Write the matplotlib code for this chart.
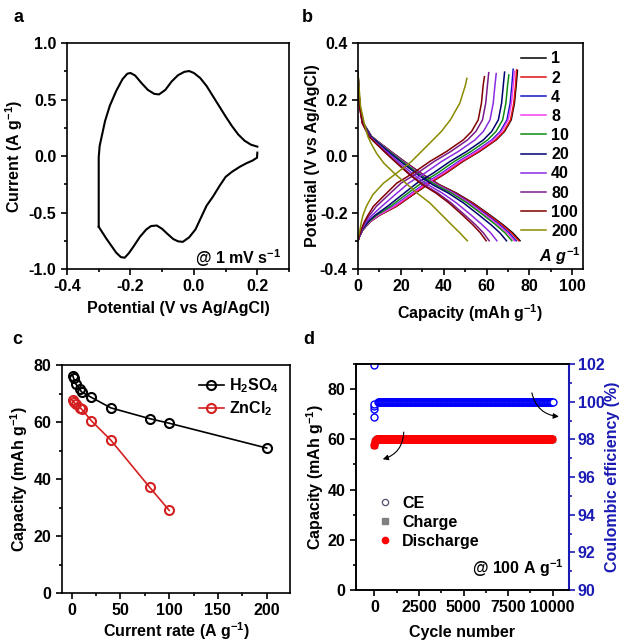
import numpy as np
import matplotlib
matplotlib.use('Agg')
import matplotlib.pyplot as plt
from matplotlib.ticker import MultipleLocator
from matplotlib.lines import Line2D

plt.rcParams['font.family'] = ['Liberation Sans', 'DejaVu Sans']
plt.rcParams['font.weight'] = 'bold'
plt.rcParams['axes.labelweight'] = 'bold'
plt.rcParams['mathtext.fontset'] = 'custom'
plt.rcParams['mathtext.rm'] = 'Liberation Sans:bold'
plt.rcParams['mathtext.bf'] = 'Liberation Sans:bold'
plt.rcParams['mathtext.it'] = 'Liberation Sans:bold:italic'
plt.rcParams['mathtext.default'] = 'rm'
plt.rcParams['axes.unicode_minus'] = False
plt.rcParams['axes.linewidth'] = 1.2

TICK_FS = 11.5
LABEL_FS = 11.5

# ---------------- panel a: CV at 1 mV/s ----------------
cv_up_v = [-0.300, -0.300, -0.300, -0.297, -0.290, -0.280, -0.265, -0.245, -0.225, -0.210,
           -0.200, -0.185, -0.165, -0.145, -0.125, -0.110, -0.090, -0.070, -0.050, -0.030,
           -0.015, 0.000, 0.020, 0.040, 0.060, 0.080, 0.100, 0.120, 0.140, 0.160, 0.180, 0.200]
cv_up_i = [-0.626, -0.300, -0.010, 0.090, 0.180, 0.310, 0.445, 0.575, 0.680, 0.728,
           0.735, 0.712, 0.645, 0.585, 0.550, 0.545, 0.585, 0.660, 0.715, 0.745,
           0.752, 0.735, 0.690, 0.620, 0.530, 0.440, 0.350, 0.265, 0.190, 0.135, 0.100, 0.083]
cv_dn_v = [0.200, 0.199, 0.185, 0.165, 0.145, 0.120, 0.100, 0.082, 0.060, 0.040, 0.020,
           0.005, -0.015, -0.035, -0.050, -0.065, -0.085, -0.100, -0.117, -0.135, -0.150,
           -0.170, -0.190, -0.205, -0.218, -0.230, -0.245, -0.260, -0.275, -0.290, -0.300]
cv_dn_i = [0.030, -0.015, -0.040, -0.065, -0.095, -0.140, -0.185, -0.260, -0.360, -0.440, -0.560,
           -0.650, -0.720, -0.760, -0.755, -0.735, -0.685, -0.645, -0.615, -0.620, -0.650,
           -0.715, -0.800, -0.860, -0.900, -0.895, -0.855, -0.795, -0.735, -0.670, -0.626]

# ---------------- panel b: GCD curves ----------------
rates = ['1', '2', '4', '8', '10', '20', '40', '80', '100', '200']
rate_colors = ['#000000', '#e01010', '#1515c8', '#f040f0', '#108a10',
               '#000070', '#8a2be2', '#7a1a8a', '#800000', '#8a8a00']

chg_v = [-0.300, -0.285, -0.262, -0.232, -0.210, -0.178, -0.137, -0.096, -0.060, -0.019,
         0.016, 0.057, 0.087, 0.128, 0.187, 0.250]
chg_cap = [
    [0, 0.7, 2.2, 5.8, 10.0, 18.0, 25.7, 33.5, 41.2, 49.0, 56.7, 64.5, 68.4, 71.5, 73.0, 73.8],
    [0, 0.7, 2.2, 5.7, 9.9, 17.8, 25.4, 33.2, 40.9, 48.7, 56.4, 64.2, 68.1, 71.2, 72.7, 73.5],
    [0, 0.7, 2.1, 5.4, 9.3, 16.6, 24.0, 31.5, 39.2, 47.0, 54.7, 62.5, 66.4, 69.5, 71.0, 71.8],
    [0, 0.7, 2.1, 5.5, 9.5, 17.0, 24.5, 32.1, 39.8, 47.6, 55.3, 63.1, 67.0, 70.1, 71.6, 72.4],
    [0, 0.6, 2.0, 5.1, 8.6, 15.2, 22.3, 29.5, 37.2, 45.0, 52.7, 60.5, 64.4, 67.5, 69.0, 69.8],
    [0, 0.6, 1.9, 4.7, 7.9, 13.8, 20.6, 27.5, 35.2, 43.0, 50.7, 58.5, 62.4, 65.5, 67.0, 67.8],
    [0, 0.6, 1.7, 4.0, 6.5, 11.1, 17.3, 23.6, 31.3, 39.1, 46.8, 54.6, 58.5, 61.6, 63.1, 63.9],
    [0, 0.5, 1.5, 3.4, 5.3, 8.6, 14.3, 20.1, 27.8, 35.6, 43.3, 51.1, 55.0, 58.1, 59.6, 60.4],
    [0, 0.5, 1.4, 3.0, 4.6, 7.2, 12.6, 18.1, 25.8, 33.6, 41.3, 49.1, 53.0, 56.1, 57.6, 58.4],
    [0, 0.2, 0.9, 1.6, 2.3, 3.9, 6.9, 11.9, 18.1, 25.0, 29.6, 35.0, 38.9, 43.1, 47.5, 50.1],
]
chg_end_cap = [74.4, 74.0, 72.4, 73.0, 70.4, 68.4, 64.5, 61.0, 59.0, 50.8]
chg_end_v = [0.303, 0.305, 0.307, 0.300, 0.287, 0.297, 0.292, 0.295, 0.281, 0.275]

dis_v = [0.295, 0.240, 0.175, 0.116, 0.069, 0.046, 0.010, -0.025, -0.066, -0.102,
         -0.131, -0.166, -0.208, -0.243, -0.272, -0.300]
dis_cap = [
    [0, 0.3, 0.9, 2.5, 6.4, 10.2, 16.4, 22.7, 30.4, 38.1, 45.9, 53.6, 61.4, 67.6, 72.2, 75.6],
    [0, 0.3, 0.9, 2.5, 6.3, 10.1, 16.3, 22.5, 30.2, 37.8, 45.5, 53.2, 60.9, 67.1, 71.6, 75.0],
    [0, 0.3, 0.9, 2.4, 6.2, 10.0, 16.0, 22.2, 29.7, 37.2, 44.8, 52.3, 59.9, 66.0, 70.5, 73.8],
    [0, 0.3, 0.9, 2.4, 6.2, 9.9, 15.8, 21.9, 29.4, 36.8, 44.3, 51.8, 59.3, 65.3, 69.7, 73.0],
    [0, 0.3, 0.9, 2.4, 6.1, 9.7, 15.6, 21.6, 28.9, 36.2, 43.6, 50.9, 58.3, 64.2, 68.6, 71.8],
    [0, 0.3, 0.8, 2.3, 5.9, 9.4, 15.0, 20.8, 27.9, 34.9, 42.1, 49.2, 56.3, 62.0, 66.2, 69.3],
    [0, 0.3, 0.8, 2.1, 5.5, 8.7, 14.1, 19.5, 26.1, 32.7, 39.3, 45.9, 52.6, 57.9, 61.9, 64.8],
    [0, 0.2, 0.7, 2.0, 5.2, 8.3, 13.3, 18.4, 24.6, 30.9, 37.2, 43.4, 49.7, 54.8, 58.5, 61.2],
    [0, 0.2, 0.7, 2.0, 5.1, 8.1, 13.0, 18.0, 24.0, 30.1, 36.3, 42.4, 48.6, 53.5, 57.1, 59.8],
    [0, 0.5, 1.2, 2.9, 4.6, 6.0, 8.6, 12.0, 17.6, 23.2, 27.5, 33.5, 39.0, 43.6, 47.5, 51.0],
]

# ---------------- panel c: rate capability ----------------
rate_x = [1, 2, 4, 8, 10, 20, 40, 80, 100, 200]
cap_h2so4 = [76.3, 75.3, 73.4, 71.7, 70.6, 68.7, 65.0, 61.2, 59.6, 50.9]
rate_x_zn = [1, 2, 4, 8, 10, 20, 40, 80, 100]
cap_zncl2 = [67.6, 67.0, 66.4, 65.1, 64.6, 60.5, 53.7, 37.1, 29.0]

# ---------------- panel d: cycling at 100 A/g ----------------
n_cycles = 10000
cycle_step = 40
ce_early = [101.95, 99.2, 99.6, 99.75, 99.9]
ce_stable = 100.0
dis_early = [57.8, 59.3, 59.8]
dis_stable = 60.0
chg_early = [57.9, 59.4, 59.9]
chg_stable = 60.0


def style_axes(ax):
    ax.tick_params(which='both', direction='out', labelsize=TICK_FS, width=1.2)
    ax.tick_params(which='major', length=4)
    ax.tick_params(which='minor', length=2.5)
    for lab in ax.get_xticklabels() + ax.get_yticklabels():
        lab.set_fontweight('bold')


fig = plt.figure(figsize=(6.22, 6.42), dpi=100)

# panel a
ax_a = fig.add_axes([0.1077, 0.581, 0.357, 0.352])
ax_a.plot(cv_dn_v, cv_dn_i, color='k', lw=1.5)
ax_a.plot(cv_up_v, cv_up_i, color='k', lw=1.5)
ax_a.set_xlim(-0.4, 0.3)
ax_a.set_ylim(-1.0, 1.0)
ax_a.xaxis.set_major_locator(MultipleLocator(0.2))
ax_a.xaxis.set_minor_locator(MultipleLocator(0.1))
ax_a.yaxis.set_major_locator(MultipleLocator(0.5))
ax_a.yaxis.set_minor_locator(MultipleLocator(0.25))
ax_a.set_xlabel('Potential (V vs Ag/AgCl)', fontsize=LABEL_FS, labelpad=5)
ax_a.set_ylabel('Current (A g$^{-1}$)', fontsize=LABEL_FS, labelpad=3)
ax_a.text(0.965, 0.05, '@ 1 mV s$^{-1}$', transform=ax_a.transAxes, ha='right', va='center',
          fontsize=TICK_FS)
style_axes(ax_a)

# panel b
ax_b = fig.add_axes([0.5756, 0.581, 0.3617, 0.352])
for k in range(len(rates)):
    ax_b.plot(chg_cap[k] + [chg_end_cap[k]], chg_v + [chg_end_v[k]], color=rate_colors[k], lw=1.1)
    ax_b.plot(dis_cap[k], dis_v, color=rate_colors[k], lw=1.1, label=rates[k])
ax_b.set_xlim(0, 105)
ax_b.set_ylim(-0.4, 0.4)
ax_b.xaxis.set_major_locator(MultipleLocator(20))
ax_b.xaxis.set_minor_locator(MultipleLocator(10))
ax_b.yaxis.set_major_locator(MultipleLocator(0.2))
ax_b.yaxis.set_minor_locator(MultipleLocator(0.1))
ax_b.set_xlabel('Capacity (mAh g$^{-1}$)', fontsize=LABEL_FS, labelpad=6)
ax_b.set_ylabel('Potential (V vs Ag/AgCl)', fontsize=LABEL_FS, labelpad=0)
ax_b.legend(loc='upper right', bbox_to_anchor=(1.02, 1.005), frameon=False, fontsize=TICK_FS,
            handlelength=1.6, handletextpad=0.3, labelspacing=0.26, borderaxespad=0.2)
ax_b.text(0.99, 0.058, r'$\mathit{A\ g^{-1}}$', transform=ax_b.transAxes, ha='right', va='center',
          fontsize=TICK_FS)
style_axes(ax_b)

# panel c
ax_c = fig.add_axes([0.0997, 0.0763, 0.3666, 0.355])
ax_c.plot(rate_x, cap_h2so4, color='k', lw=1.2, marker='o', ms=6.5, mfc='none', mew=1.5,
          label='H$_2$SO$_4$')
ax_c.plot(rate_x_zn, cap_zncl2, color='#d42020', lw=1.2, marker='o', ms=6.5, mfc='none', mew=1.5,
          label='ZnCl$_2$')
ax_c.set_xlim(-10, 224)
ax_c.set_ylim(0, 80)
ax_c.xaxis.set_major_locator(MultipleLocator(50))
ax_c.xaxis.set_minor_locator(MultipleLocator(25))
ax_c.yaxis.set_major_locator(MultipleLocator(20))
ax_c.yaxis.set_minor_locator(MultipleLocator(10))
ax_c.set_xlabel('Current rate (A g$^{-1}$)', fontsize=LABEL_FS, labelpad=1)
ax_c.set_ylabel('Capacity (mAh g$^{-1}$)', fontsize=LABEL_FS, labelpad=3)
ax_c.legend(loc='upper right', frameon=False, fontsize=TICK_FS, handlelength=1.6,
            handletextpad=0.3, borderaxespad=0.3, labelspacing=0.3)
style_axes(ax_c)

# panel d
ax_d = fig.add_axes([0.5723, 0.081, 0.3424, 0.352])
ax_e = ax_d.twinx()
cycles = np.arange(1, n_cycles + 1, cycle_step)
ce = np.full(len(cycles), ce_stable)
ce[:len(ce_early)] = ce_early
dis = np.full(len(cycles), dis_stable)
dis[:len(dis_early)] = dis_early
chg = np.full(len(cycles), chg_stable)
chg[:len(chg_early)] = chg_early
ce_x = cycles.copy()
ce_x[:len(ce_early)] = 1

ax_d.plot(cycles, chg, ls='none', marker='s', ms=4, color='#808080', zorder=2)
ax_d.plot(cycles, dis, ls='none', marker='o', ms=5, color='#ff0000', zorder=3)
ax_e.plot(ce_x, ce, ls='none', marker='o', ms=5, mfc='white', mec='#0000ff', mew=1.0)
ax_e.plot([n_cycles], [ce_stable], ls='none', marker='o', ms=5, mfc='white', mec='#0000ff', mew=1.0)

ax_d.set_xlim(-1030, 10910)
ax_d.set_ylim(0, 90)
ax_e.set_ylim(90, 102)
ax_d.xaxis.set_major_locator(MultipleLocator(2500))
ax_d.xaxis.set_minor_locator(MultipleLocator(1250))
ax_d.yaxis.set_major_locator(MultipleLocator(20))
ax_d.yaxis.set_minor_locator(MultipleLocator(10))
ax_e.yaxis.set_major_locator(MultipleLocator(2))
ax_e.yaxis.set_minor_locator(MultipleLocator(1))
ax_d.set_xlabel('Cycle number', fontsize=LABEL_FS, labelpad=7)
ax_d.set_ylabel('Capacity (mAh g$^{-1}$)', fontsize=LABEL_FS, labelpad=1)
blue = '#1a1ab4'
ax_e.set_ylabel('Coulombic efficiency (%)', fontsize=LABEL_FS, color=blue, labelpad=0)
style_axes(ax_d)
style_axes(ax_e)
ax_e.tick_params(axis='y', which='both', colors=blue, pad=2.5)
ax_e.spines['right'].set_color(blue)
ax_e.spines['right'].set_linewidth(1.5)

ax_e.annotate('', xy=(320, 51.8), xytext=(1650, 64), xycoords=ax_d.transData,
              textcoords=ax_d.transData,
              arrowprops=dict(arrowstyle='-|>', color='k', lw=0.8, mutation_scale=8,
                              connectionstyle='arc3,rad=-0.4'))
ax_e.annotate('', xy=(10500, 69.0), xytext=(8800, 79.6), xycoords=ax_d.transData,
              textcoords=ax_d.transData,
              arrowprops=dict(arrowstyle='-|>', color='k', lw=0.8, mutation_scale=8,
                              connectionstyle='arc3,rad=0.4'))

handles = [Line2D([], [], ls='none', marker='o', ms=4.5, mfc='white', mec='#505070', mew=0.9),
           Line2D([], [], ls='none', marker='s', ms=4, color='#808080'),
           Line2D([], [], ls='none', marker='o', ms=4.5, color='#ff0000')]
ax_e.legend(handles, ['CE', 'Charge', 'Discharge'], loc='center left', bbox_to_anchor=(0.03, 0.30),
            frameon=False, fontsize=LABEL_FS, handlelength=1.0, handletextpad=0.6, labelspacing=0.25)
ax_e.text(0.975, 0.095, '@ 100 A g$^{-1}$', transform=ax_e.transAxes, ha='right', va='center',
          fontsize=TICK_FS)

# panel letters
for lab, (x, y) in zip('abcd', [(0.022, 0.986), (0.485, 0.986), (0.02, 0.484), (0.488, 0.484)]):
    fig.text(x, y, lab, fontsize=13, fontweight='bold', ha='left', va='top')

fig.savefig('out.png', dpi=100)
